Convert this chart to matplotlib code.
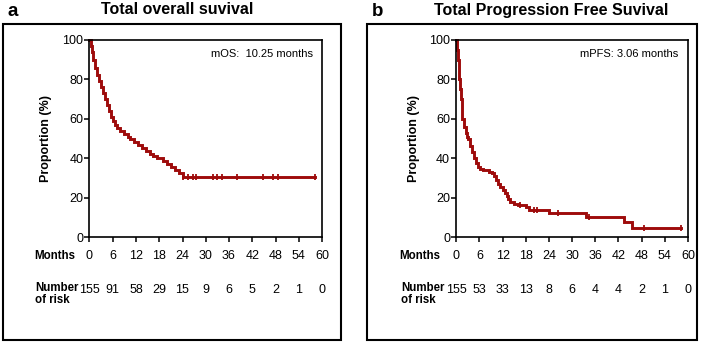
import matplotlib
matplotlib.use("Agg")
import matplotlib.pyplot as plt
import numpy as np
from matplotlib.patches import Rectangle
from matplotlib.transforms import blended_transform_factory

plt.rcParams['font.family'] = ['Liberation Sans', 'DejaVu Sans']

# ---- data ----
os_time = [0, 0.3, 0.6, 1.0, 1.5, 2.0, 2.5, 3.0, 3.5, 4.0, 4.5, 5.0, 5.5, 6.0, 6.5, 7.0,
           8.0, 9.0, 10.0, 10.5, 11.5, 12.5, 13.5, 14.5, 15.5, 16.5, 17.5, 19.0, 20.0,
           21.0, 22.0, 23.0, 24.0, 58.1]
os_surv = [100, 97, 94, 90, 86, 82, 79, 76, 73, 70, 67, 64, 61, 59, 57, 55.5,
           54, 52.5, 51, 49.5, 48, 46.5, 45, 43.5, 42, 41, 40, 38.5, 37,
           35.5, 34, 32.5, 30.3, 30.3]
os_censor = [24.0, 25.5, 26.6, 27.6, 31.9, 33.0, 34.3, 38.1, 44.8, 47.4, 48.7, 58.1]

pfs_time = [0, 0.2, 0.4, 0.6, 0.8, 1.0, 1.2, 1.4, 1.6, 2.0, 2.4, 2.8, 3.06, 3.5, 4.0, 4.5,
            5.0, 5.5, 6.2, 7.0, 8.5, 9.3, 9.8, 10.3, 10.8, 11.3, 12.0, 12.5, 13.0, 13.5,
            14.0, 15.0, 16.0, 18.0, 18.8, 24.0, 33.5, 43.4, 45.6, 58.1]
pfs_surv = [100, 95, 90, 85, 80, 75, 70, 65, 60, 56, 53, 51, 49.5, 46, 43, 40,
            37.5, 35.5, 34.5, 33.8, 33.2, 32.3, 31, 29, 27, 25.5, 24, 22.5, 21, 19.5,
            18, 17, 16.2, 15, 13.7, 12, 10.3, 7.8, 4.5, 4.5]
pfs_censor = [16.5, 20.0, 21.0, 26.3, 34.4, 48.6, 58.1]

months = [0, 6, 12, 18, 24, 30, 36, 42, 48, 54, 60]
os_risk = [155, 91, 58, 29, 15, 9, 6, 5, 2, 1, 0]
pfs_risk = [155, 53, 33, 13, 8, 6, 4, 4, 2, 1, 0]
yticks = [0, 20, 40, 60, 80, 100]

W, H = 708, 343
fig = plt.figure(figsize=(W / 100, H / 100), dpi=100)

def fx(px):
    return px / W

def fy(py):
    return 1 - py / H

RED = '#9e0b0b'

panels = [
    dict(frame=(3, 24, 341, 340), ax=(89.5, 40, 322, 237), title='Total overall suvival',
         title_x=177, letter='a', letter_x=8, t=os_time, s=os_surv, c=os_censor,
         risk=os_risk, note='mOS:  10.25 months', ylab_x=46, months_x=75, num_x=35),
    dict(frame=(367, 24, 697, 340), ax=(456.3, 40, 688, 237),
         title='Total Progression Free Suvival', title_x=551, letter='b', letter_x=372,
         t=pfs_time, s=pfs_surv, c=pfs_censor, risk=pfs_risk,
         note='mPFS: 3.06 months', ylab_x=414, months_x=440, num_x=401),
]

for p in panels:
    x0, y0, x1, y1 = p['frame']
    fig.patches.append(Rectangle((fx(x0), fy(y1)), fx(x1) - fx(x0), fy(y0) - fy(y1),
                                 transform=fig.transFigure, fill=False,
                                 edgecolor='black', linewidth=1.5, zorder=0))
    ax0, ay0, ax1, ay1 = p['ax']
    ax = fig.add_axes([fx(ax0), fy(ay1), fx(ax1) - fx(ax0), fy(ay0) - fy(ay1)])
    ax.step(p['t'], p['s'], where='post', color=RED, linewidth=2.1, clip_on=False,
            solid_joinstyle='miter')
    tt = np.array(p['t']); ss = np.array(p['s'])
    cy = [ss[np.searchsorted(tt, c, side='right') - 1] for c in p['c']]
    ax.plot(p['c'], cy, linestyle='none', marker='|', markersize=4.5,
            markeredgewidth=1.3, color=RED, clip_on=False)
    ax.set_xlim(0, 60)
    ax.set_ylim(0, 100)
    ax.set_xticks(months)
    ax.set_xticklabels([])
    ax.set_yticks(yticks)
    ax.tick_params(axis='both', direction='out', length=3.5, width=1.1,
                   labelsize=9, pad=1, colors='black')
    for sp in ax.spines.values():
        sp.set_linewidth(1.2)
    ax.text(0.96, 0.93, p['note'], transform=ax.transAxes, ha='right', va='center',
            fontsize=8)
    fig.text(fx(p['ylab_x']), fy((ay0 + ay1) / 2), 'Proportion (%)', rotation=90,
             ha='center', va='center', fontsize=9, fontweight='bold')
    tr = blended_transform_factory(ax.transData, fig.transFigure)
    for m, r in zip(months, p['risk']):
        ax.text(m, fy(256), str(m), transform=tr, ha='center', va='center', fontsize=9)
        ax.text(m, fy(290), str(r), transform=tr, ha='center', va='center', fontsize=9)
    fig.text(fx(p['months_x']), fy(256), 'Months', ha='right', va='center',
             fontsize=8.3, fontweight='bold')
    fig.text(fx(p['num_x']), fy(294), 'Number\nof risk', ha='left', va='center',
             fontsize=8.3, fontweight='bold', linespacing=0.9)
    fig.text(fx(p['title_x']), fy(10), p['title'], ha='center', va='center',
             fontsize=11.5, fontweight='bold')
    fig.text(fx(p['letter_x']), fy(11), p['letter'], ha='left', va='center',
             fontsize=13.5, fontweight='bold')

fig.savefig('out.png', dpi=100)
